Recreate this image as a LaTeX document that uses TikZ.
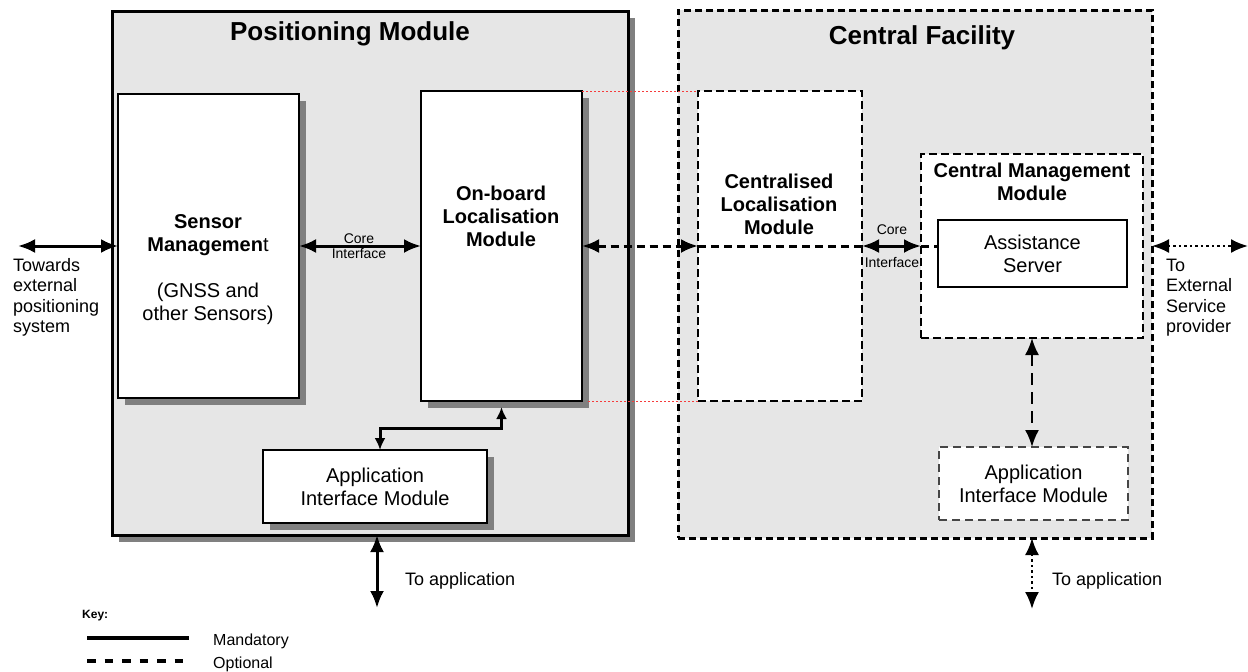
\documentclass[tikz,border=0pt]{standalone}
\usepackage{fontspec}
\setmainfont{Liberation Sans}
\usetikzlibrary{arrows.meta,shadows}
\definecolor{panel}{RGB}{230,230,230}
\definecolor{shade}{RGB}{128,128,128}
\definecolor{dotred}{RGB}{245,60,60}
\definecolor{dashgray}{RGB}{70,70,70}
\tikzset{
  boxbase/.style={anchor=north west, inner sep=0pt, outer sep=0pt, align=center},
  panelbox/.style={boxbase, draw, fill=panel, line width=3pt},
  cfbox/.style={boxbase, draw, fill=panel, line width=3pt, dash pattern=on 7pt off 4pt},
  whitebox/.style={boxbase, draw, fill=white, line width=2.4pt, font=\bodyfont},
  dashbox/.style={boxbase, draw, fill=white, line width=2.2pt, dash pattern=on 8pt off 4pt, font=\bodyfont},
  graydash/.style={boxbase, draw=dashgray, fill=white, line width=1.4pt, dash pattern=on 8pt off 5pt, font=\bodyfont},
  shadowed/.style={drop shadow={shadow xshift=7pt, shadow yshift=-7pt, fill=shade, opacity=1}},
  bodytxt/.style={align=center, inner sep=0pt, font=\bodyfont},
  boldtxt/.style={align=center, inner sep=0pt, font=\bodyfont\bfseries},
  titletxt/.style={inner sep=0pt, font=\titlefont},
  sidetxt/.style={align=left, inner sep=0pt, anchor=west, font=\sidefont},
  smalltxt/.style={align=center, inner sep=0pt, font=\smallfont},
  tipbig/.tip={Latex[length=17pt,width=14pt]},
  tipsmall/.tip={Latex[length=12pt,width=11pt]},
  mandarrow/.style={line width=3pt, tipbig-tipbig},
  mandsmall/.style={line width=3pt, tipsmall-tipsmall},
  optarrow/.style={line width=3pt, dash pattern=on 8pt off 5pt, tipbig-tipbig},
  optline/.style={line width=3pt, dash pattern=on 8pt off 5pt},
  optvert/.style={line width=2pt, dash pattern=on 12pt off 7pt, tipbig-tipbig},
  dotarrow/.style={line width=2.2pt, dash pattern=on 2.5pt off 3pt, tipbig-tipbig},
  reddot/.style={draw=dotred, line width=1pt, dash pattern=on 1.5pt off 2.5pt},
}
\newcommand{\bodyfont}{\fontsize{20}{23}\selectfont}
\newcommand{\titlefont}{\fontsize{26}{30}\selectfont\bfseries}
\newcommand{\sidefont}{\fontsize{18}{20.5}\selectfont}
\newcommand{\smallfont}{\fontsize{14}{15}\selectfont}
\begin{document}
\begin{tikzpicture}[x=1pt,y=-1pt]
\useasboundingbox (0,0) rectangle (1248,672);

% containers
\node[panelbox, shadowed, minimum width=516pt, minimum height=524pt] (pos) at (112,11) {};
\node[cfbox, minimum width=474pt, minimum height=528pt] (cf) at (678,10) {};
\node[titletxt] (postitle) at (350,34) {Positioning Module};
\node[titletxt] (cftitle) at (922,38) {Central Facility};

% red dotted guide lines
\node[whitebox, shadowed, minimum width=161pt, minimum height=310pt] (onboard) at (421,91) {};
\node[dashbox, minimum width=164pt, minimum height=310pt] (central) at (698,91) {};
\draw[reddot] (onboard.north east) -- (central.north west);
\draw[reddot] ([xshift=6pt]onboard.south east) -- (central.south west);

% boxes
\node[whitebox, shadowed, minimum width=181pt, minimum height=304pt] (sensor) at (118,94) {};
\node[whitebox, shadowed, minimum width=224pt, minimum height=73pt] (aiml) at (263,450) {Application\\Interface Module};
\node[dashbox, minimum width=222pt, minimum height=184pt] (cmm) at (921,154) {};
\node[whitebox, line width=2pt, minimum width=189pt, minimum height=67pt] (assist) at (938,220) {Assistance\\Server};
\node[graydash, minimum width=189pt, minimum height=73pt] (aimr) at (939,447) {Application\\Interface Module};

% box texts
\node[bodytxt] (sensortxt) at (208,270) {\textbf{Sensor}\\\textbf{Managemen}t\\[23pt](GNSS and\\other Sensors)};
\node[boldtxt] (onboardtxt) at (501,216) {On-board\\Localisation\\Module};
\node[boldtxt] (centraltxt) at (779,204) {Centralised\\Localisation\\Module};
\node[boldtxt] (cmmtxt) at (1032,182) {Central Management\\Module};

% free ends
\coordinate (towards) at (18,246);
\coordinate (extR) at (1248,246);
\coordinate (appL) at (377,608);
\coordinate (appR) at (1032,609);

% connectors
\draw[mandarrow] (towards) -- (sensor.west);
\draw[mandarrow] (sensor.east) -- (onboard.west);
\node[smalltxt] (ci1) at (359,246.5) {Core\\Interface};
\draw[optarrow] (onboard.east) -- (central.west);
\draw[optline] (central.west) -- (central.east);
\draw[mandarrow] (central.east) -- (cmm.west);
\draw[optline] (cmm.west) -- (cmm.west -| assist.west);
\node[smalltxt] (ci2a) at (892,230) {Core};
\node[smalltxt] (ci2b) at (892,262) {Interface};
\draw[dotarrow] (cmm.west -| cf.east) -- (extR);
\draw[optvert] (cmm.south) -- (cmm.south |- aimr.north);
\draw[mandsmall] ([xshift=5pt]aiml.north) |- ([yshift=-27pt]onboard.south) -- ([yshift=-6pt]onboard.south);
\draw[mandarrow] (pos.south -| appL) -- (appL);
\draw[dotarrow] (cf.south -| appR) -- (appR);

% outside labels
\node[sidetxt] (towardstxt) at (13,297.5) {Towards\\external\\positioning\\system};
\node[sidetxt] (exttxt) at (1166,297.5) {To\\External\\Service\\provider};
\node[sidetxt] (appLtxt) at (405,581) {To application};
\node[sidetxt] (appRtxt) at (1052,581) {To application};

% key
\node[anchor=west, inner sep=0pt, font=\fontsize{12}{14}\selectfont\bfseries] (keytxt) at (82,616) {Key:};
\coordinate (k1a) at (87,638); \coordinate (k1b) at (189,638);
\coordinate (k2a) at (87,661); \coordinate (k2b) at (189,661);
\draw[line width=4pt] (k1a) -- (k1b);
\draw[line width=3.5pt, dash pattern=on 8.5pt off 9pt] (k2a) -- (k2b);
\node[anchor=west, inner sep=0pt, font=\fontsize{16}{18}\selectfont] (mandtxt) at (213,641) {Mandatory};
\node[anchor=west, inner sep=0pt, font=\fontsize{16}{18}\selectfont] (opttxt) at (213,664) {Optional};
\end{tikzpicture}
\end{document}
